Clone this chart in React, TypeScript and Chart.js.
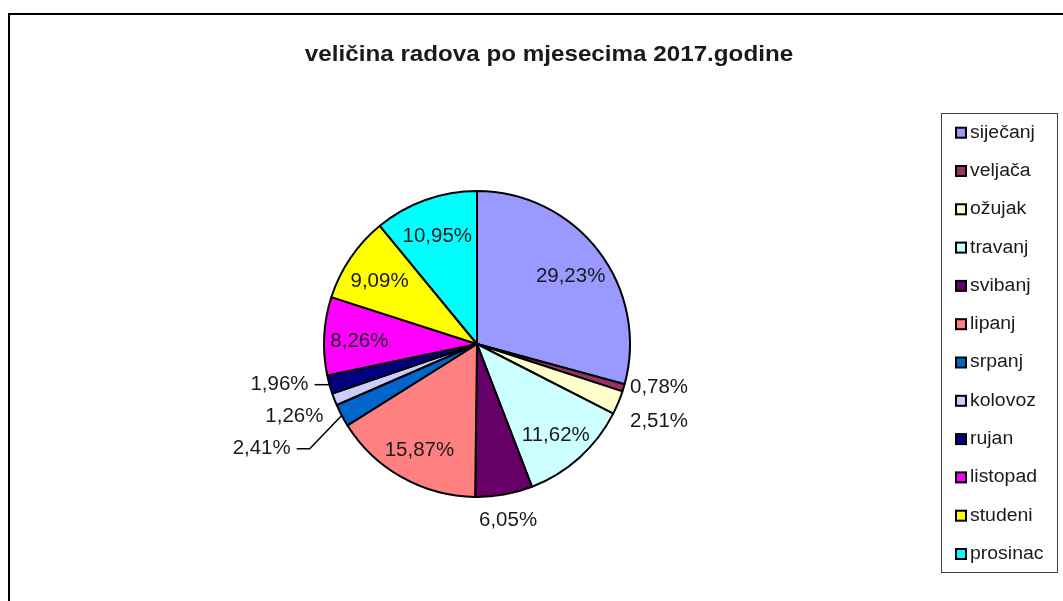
import React, { useEffect, useRef } from 'react';
import { Chart, registerables } from 'chart.js';

Chart.register(...registerables);

const TITLE = 'veličina radova po mjesecima 2017.godine';
const MONTHS = ['siječanj', 'veljača', 'ožujak', 'travanj', 'svibanj', 'lipanj', 'srpanj', 'kolovoz', 'rujan', 'listopad', 'studeni', 'prosinac'];
const SHARES = [29.23, 0.78, 2.51, 11.62, 6.05, 15.87, 2.41, 1.26, 1.96, 8.26, 9.09, 10.95];
const COLORS = ['#9999FF', '#993366', '#FFFFCC', '#CCFFFF', '#660066', '#FF8080', '#0066CC', '#CCCCFF', '#000080', '#FF00FF', '#FFFF00', '#00FFFF'];
// extra leader-line length for outside labels (style)
const LEADER = [0, 0, 0, 0, 0, 0, 45, 0, 15, 0, 0, 0];

const W = 1063;
const H = 601;
const TEXT_COLOR = '#1a1a1a';
const FONT = '"Liberation Sans", Arial, sans-serif';

function fmt(v: number) {
  return v.toFixed(2).replace('.', ',') + '%';
}

function drawText(ctx: CanvasRenderingContext2D, text: string, x: number, y: number, align: string, font: string, sx = 1.1) {
  ctx.save();
  ctx.font = font;
  ctx.textBaseline = 'middle';
  ctx.textAlign = 'left';
  const w = ctx.measureText(text).width * sx;
  const left = align === 'left' ? x : align === 'right' ? x - w : x - w / 2;
  ctx.translate(left, y);
  ctx.scale(sx, 1);
  ctx.fillStyle = TEXT_COLOR;
  ctx.fillText(text, 0, 0);
  ctx.restore();
  return w;
}

const decorPlugin = {
  id: 'decor',
  afterDraw(chart: any) {
    const ctx: CanvasRenderingContext2D = chart.ctx;
    // frame
    ctx.save();
    ctx.strokeStyle = '#000';
    ctx.lineWidth = 2;
    ctx.beginPath();
    ctx.moveTo(9, H + 5);
    ctx.lineTo(9, 14);
    ctx.lineTo(W + 5, 14);
    ctx.stroke();
    ctx.restore();

    // title
    drawText(ctx, TITLE, 549, 55, 'center', `bold 22px ${FONT}`, 1.1);

    // legend
    ctx.save();
    ctx.fillStyle = '#fff';
    ctx.fillRect(941.5, 113.5, 116, 459);
    ctx.strokeStyle = '#404040';
    ctx.lineWidth = 1;
    ctx.strokeRect(941.5, 113.5, 116, 459);
    ctx.restore();
    MONTHS.forEach((m, i) => {
      const y = 132.7 + i * 38.3;
      ctx.save();
      ctx.fillStyle = COLORS[i];
      ctx.fillRect(956, y - 5, 10, 10);
      ctx.strokeStyle = '#000';
      ctx.lineWidth = 2;
      ctx.strokeRect(956, y - 5, 10, 10);
      ctx.restore();
      drawText(ctx, m, 970, y, 'left', `18px ${FONT}`, 1.08);
    });

    // data labels
    const meta = chart.getDatasetMeta(0);
    const labelFont = `19.5px ${FONT}`;
    const LSX = 1.05;
    const right: any[] = [];
    const left: any[] = [];
    meta.data.forEach((arc: any, i: number) => {
      const { x, y, startAngle, endAngle, outerRadius } = arc.getProps(['x', 'y', 'startAngle', 'endAngle', 'outerRadius'], true);
      const mid = (startAngle + endAngle) / 2;
      const v = SHARES[i];
      const text = fmt(v);
      if (v >= 7) {
        const rr = outerRadius * 0.77;
        drawText(ctx, text, x + Math.cos(mid) * rr, y + Math.sin(mid) * rr + 4, 'center', labelFont, LSX);
        return;
      }
      const ex = x + Math.cos(mid) * outerRadius;
      const ey = y + Math.sin(mid) * outerRadius;
      const c = Math.cos(mid);
      if (Math.abs(c) < 0.35) {
        drawText(ctx, text, ex + 4, ey + 26, 'center', labelFont, LSX);
      } else if (c > 0) {
        right.push({ i, text, ex, ey, x, r: outerRadius });
      } else {
        left.push({ i, text, ex, ey, x, r: outerRadius });
      }
    });
    const GAP = 32;
    right.sort((a, b) => a.ey - b.ey);
    let last = -1e9;
    right.forEach((l) => {
      const ly = Math.max(l.ey, last + GAP + 2);
      last = ly;
      drawText(ctx, l.text, l.x + l.r, ly, 'left', labelFont, LSX);
    });
    left.sort((a, b) => a.ey - b.ey);
    last = -1e9;
    left.forEach((l) => {
      const ly = Math.max(l.ey, last + GAP);
      last = ly;
      const lead = LEADER[l.i];
      if (lead > 0) {
        const endX = l.ex - lead;
        ctx.save();
        ctx.strokeStyle = '#000';
        ctx.lineWidth = 1.5;
        ctx.beginPath();
        ctx.moveTo(l.ex, l.ey);
        ctx.lineTo(Math.min(endX + 13, l.ex), ly);
        ctx.lineTo(endX, ly);
        ctx.stroke();
        ctx.restore();
        drawText(ctx, l.text, endX - 6, ly, 'right', labelFont, LSX);
      } else {
        drawText(ctx, l.text, l.ex - 11, ly, 'right', labelFont, LSX);
      }
    });
  },
};

export default function App() {
  const ref = useRef<HTMLCanvasElement | null>(null);
  useEffect(() => {
    if (!ref.current) return;
    const chart = new Chart(ref.current, {
      type: 'pie',
      data: {
        labels: MONTHS,
        datasets: [
          {
            data: SHARES,
            backgroundColor: COLORS,
            borderColor: '#000',
            borderWidth: 2,
          },
        ],
      },
      options: {
        responsive: false,
        animation: false,
        layout: { padding: { left: 323, top: 190, right: W - 631, bottom: H - 498 } },
        plugins: {
          legend: { display: false },
          title: { display: false },
          tooltip: { enabled: false },
        },
      },
      plugins: [decorPlugin],
    });
    return () => chart.destroy();
  }, []);
  return (
    <canvas
      ref={ref}
      width={W}
      height={H}
      style={{ position: 'fixed', left: 0, top: 0, width: W, height: H, background: '#fff' }}
    />
  );
}
